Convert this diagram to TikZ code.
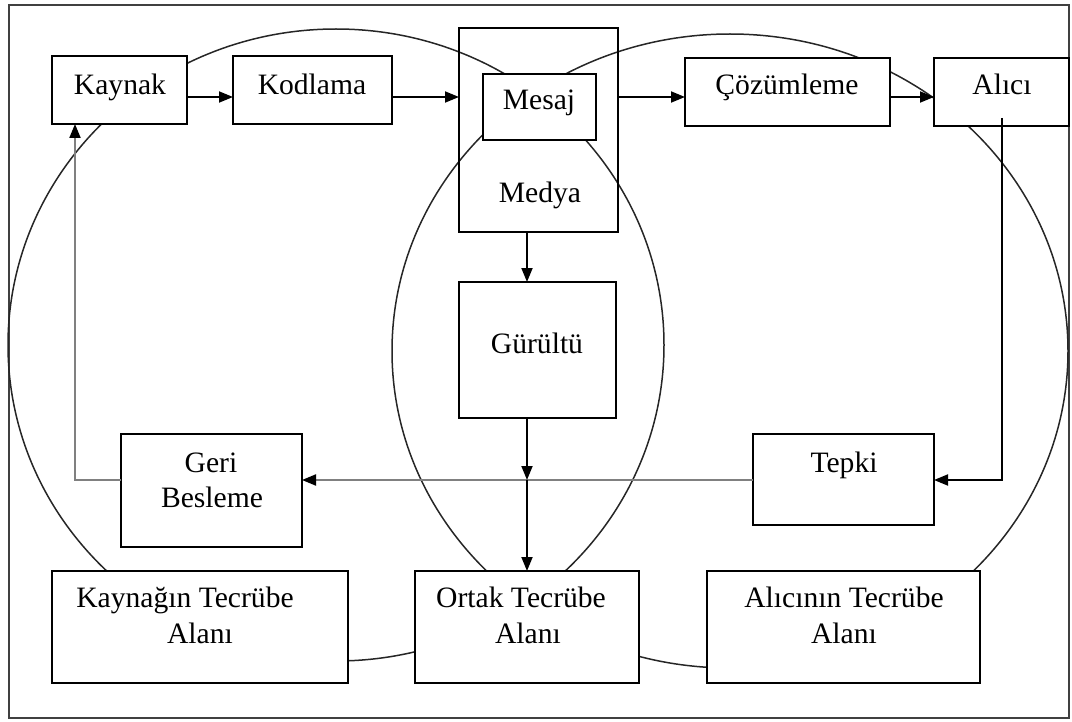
\documentclass[tikz,border=0pt]{standalone}
\usepackage{fontspec}
\setmainfont{Liberation Serif}
\usetikzlibrary{arrows.meta,fit}
\begin{document}
\begin{tikzpicture}[x=0.5pt,y=-0.5pt,
  box/.style={draw, fill=white, line width=1pt, inner sep=0pt, outer sep=0pt},
  hollowbox/.style={box, fill=none},
  lbl/.style={anchor=base, inner sep=0pt, font=\fontsize{14.8}{17}\selectfont},
  field/.style={line width=0.75pt, draw=black!85},
  arr/.style={line width=0.9pt, -{Triangle[length=7pt,width=5.5pt]}},
  fb/.style={line width=1pt, draw=black!50, -{Triangle[length=7pt,width=5.5pt,color=black]}},
]
\useasboundingbox (0,0) rectangle (1072,722);
\draw[line width=1pt, black!75] (9,5) rectangle (1069,718);

% the two fields of experience
\draw[field] (336,345) ellipse [x radius=164pt, y radius=158pt];
\draw[field] (730,351) ellipse [x radius=169pt, y radius=158.5pt];

% boxes
\node[hollowbox, fit={(459,28) (618,232)}] (medya) {};
\node[box, fit={(52,56) (187,124)}] (kaynak) {};
\node[box, fit={(233,56) (392,124)}] (kodlama) {};
\node[box, fit={(483,74) (596,140)}] (mesaj) {};
\node[box, fit={(685,58) (890,126)}] (cozum) {};
\node[box, fit={(934,58) (1069,126)}] (alici) {};
\node[box, fit={(459,282) (616,418)}] (gurultu) {};
\node[box, fit={(121,434) (302,547)}] (geri) {};
\node[box, fit={(753,434) (934,525)}] (tepki) {};
\node[box, fit={(52,571) (348,683)}] (kaynakalan) {};
\node[box, fit={(415,571) (639,683)}] (ortak) {};
\node[box, fit={(707,571) (980,683)}] (alicialan) {};

% labels
\node[lbl] (tk) at (120,95) {Kaynak};
\node[lbl] (tkod) at (312,95) {Kodlama};
\node[lbl] (tmes) at (539,110) {Mesaj};
\node[lbl] (tmed) at (540,203) {Medya};
\node[lbl] (tcoz) at (787,95) {Çözümleme};
\node[lbl] (tal) at (1002,95) {Alıcı};
\node[lbl] (tgur) at (537,353) {Gürültü};
\node[lbl] (tgeri1) at (211,472) {Geri};
\node[lbl] (tgeri2) at (212,507) {Besleme};
\node[lbl] (ttep) at (844,472) {Tepki};
\node[lbl] (tka1) at (185,607) {Kaynağın Tecrübe};
\node[lbl] (tka2) at (200,643) {Alanı};
\node[lbl] (tor1) at (521,607) {Ortak Tecrübe};
\node[lbl] (tor2) at (528,643) {Alanı};
\node[lbl] (tal1) at (844,607) {Alıcının Tecrübe};
\node[lbl] (tal2) at (844,643) {Alanı};

% routing helpers
\coordinate (row) at (0,97);
\coordinate (fbrow) at (0,480);
\coordinate (col) at (527,0);
\coordinate (fbcol) at (75,0);
\coordinate (aout) at (1002,118);
\coordinate (cross) at (527,480);

% message flow
\draw[arr] (kaynak.east |- row) -- (kodlama.west |- row);
\draw[arr] (kodlama.east |- row) -- (medya.west |- row);
\draw[arr] (medya.east |- row) -- (cozum.west |- row);
\draw[arr] (cozum.east |- row) -- (alici.west |- row);
\draw[arr] (medya.south -| col) -- (gurultu.north -| col);
\draw[arr] (aout) |- (tepki.east |- fbrow);
% feedback loop
\draw[fb] (tepki.west |- fbrow) -- (geri.east |- fbrow);
\draw[fb] (geri.west |- fbrow) -| (fbcol |- kaynak.south);
% noise into the common field
\draw[arr] (gurultu.south -| col) -- (cross);
\draw[arr] (cross) -- (ortak.north -| col);
\end{tikzpicture}
\end{document}
